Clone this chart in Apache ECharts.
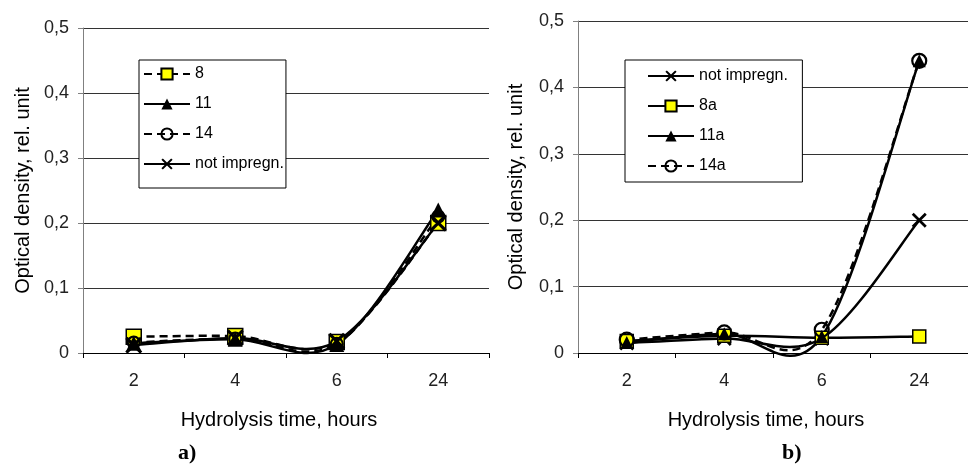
<!DOCTYPE html>
<html><head><meta charset="utf-8">
<script src="https://cdn.jsdelivr.net/npm/echarts@6/dist/echarts.min.js"></script>
<style>html,body{margin:0;padding:0;background:#fff}#c{width:968px;height:474px}</style>
</head><body><div id="c"></div>
<script>
// ---- data ----
const categories = ['2', '4', '6', '24'];
const xAxisTitle = 'Hydrolysis time, hours';
const yAxisTitle = 'Optical density, rel. unit';
const panelLabels = ['a)', 'b)'];

// panel a
const namesA = ['8', '11', '14', 'not impregn.'];
const a8   = [0.025, 0.026, 0.017, 0.200];
const a11  = [0.015, 0.021, 0.013, 0.220];
const a14  = [0.016, 0.022, 0.014, 0.210];
const aNot = [0.012, 0.023, 0.018, 0.200];

// panel b
const namesB = ['not impregn. ', '8a', '11a', '14a'];
const bNot = [0.015, 0.022, 0.022, 0.200];
const b8   = [0.018, 0.026, 0.023, 0.025];
const b11  = [0.016, 0.029, 0.025, 0.440];
const b14  = [0.020, 0.031, 0.035, 0.440];

// ---- styling ----
const FONT = '"Liberation Sans", Arial, sans-serif';
const X_PATH = 'path://M0,1.3 L1.3,0 L5,3.7 L8.7,0 L10,1.3 L6.3,5 L10,8.7 L8.7,10 L5,6.3 L1.3,10 L0,8.7 L3.7,5 Z';
const DASH = [8, 5];
const LW = 2.5;

function yFmt(v) { return v === 0 ? '0' : v.toFixed(1).replace('.', ','); }

// marker series (line itself hidden; drawn by the smoothing curve series below)
function mkSeries(name, data, idx, kind, dashed, big) {
  const s = {
    name: name, type: 'line', data: data,
    xAxisIndex: idx, yAxisIndex: idx, z: 3,
    lineStyle: { color: '#000', width: LW, type: dashed ? DASH : 'solid', opacity: 0 },
    emphasis: { disabled: true }
  };
  const k = big ? 2 : 0;
  if (kind === 'square') {
    s.symbol = 'rect'; s.symbolSize = 13 + k;
    s.itemStyle = { color: '#ffff00', borderColor: '#000', borderWidth: 1.5 };
  } else if (kind === 'tri') {
    s.symbol = 'triangle'; s.symbolSize = 13 + k;
    s.itemStyle = { color: '#000', borderColor: '#000', borderWidth: 0 };
  } else if (kind === 'circle') {
    s.symbol = 'circle'; s.symbolSize = big ? 12 : 14;
    s.itemStyle = { color: 'rgba(255,255,255,0)', borderColor: '#000', borderWidth: 2.2 };
  } else {
    s.symbol = X_PATH; s.symbolSize = 15 + k;
    s.itemStyle = { color: '#000', borderWidth: 0 };
  }
  return s;
}

// Excel-like smoothed line (Catmull-Rom), positioned with the axes' own scales via api.coord
function curveSeries(idx, curves) {
  return {
    type: 'custom', xAxisIndex: idx, yAxisIndex: idx, z: 2, silent: true,
    data: curves.map((c, i) => [i, 0]),
    renderItem: function (params, api) {
      const c = curves[params.dataIndex];
      const pts = c.data.map((v, i) => api.coord([i, v]));
      let d = 'M' + pts[0][0] + ',' + pts[0][1];
      for (let i = 0; i < pts.length - 1; i++) {
        const p0 = pts[Math.max(i - 1, 0)], p1 = pts[i], p2 = pts[i + 1], p3 = pts[Math.min(i + 2, pts.length - 1)];
        const c1x = p1[0] + (p2[0] - p0[0]) / 6, c1y = p1[1] + (p2[1] - p0[1]) / 6;
        const c2x = p2[0] - (p3[0] - p1[0]) / 6, c2y = p2[1] - (p3[1] - p1[1]) / 6;
        d += ' C' + c1x + ',' + c1y + ' ' + c2x + ',' + c2y + ' ' + p2[0] + ',' + p2[1];
      }
      return {
        type: 'path', shape: { pathData: d },
        style: { fill: 'none', stroke: '#000', lineWidth: LW, lineDash: c.dashed ? DASH : null, lineJoin: 'round' }
      };
    }
  };
}

function xAx(idx) {
  return {
    type: 'category', gridIndex: idx, data: categories, boundaryGap: true,
    axisLine: { show: true, lineStyle: { color: '#000', width: 1 } },
    axisTick: { show: true, length: 5, lineStyle: { color: '#000' } },
    axisLabel: { fontSize: 18, color: '#222', margin: 19, fontFamily: FONT },
    splitLine: { show: false },
    name: xAxisTitle, nameLocation: 'middle', nameGap: 57,
    nameTextStyle: { fontSize: 20, color: '#000', fontFamily: FONT, padding: [0, 14, 0, 0] }
  };
}
function yAx(idx, gap) {
  return {
    type: 'value', gridIndex: idx, min: 0, max: 0.5, interval: 0.1,
    axisLine: { show: true, lineStyle: { color: '#808080', width: 1 } },
    axisTick: { show: true, length: 5, lineStyle: { color: '#808080' } },
    axisLabel: { fontSize: 18, color: '#222', margin: 14, fontFamily: FONT, formatter: yFmt },
    splitLine: { show: true, lineStyle: { color: '#333', width: 1 } },
    name: yAxisTitle, nameLocation: 'middle', nameRotate: 90, nameGap: gap,
    nameTextStyle: { fontSize: 20, color: '#000', fontFamily: FONT }
  };
}
function legend(names, left, top, padding) {
  return {
    orient: 'vertical', left: left, top: top, data: names,
    itemWidth: 46, itemHeight: 14, itemGap: 10, padding: padding,
    borderColor: '#000', borderWidth: 1, backgroundColor: '#fff',
    lineStyle: { opacity: 1 },
    textStyle: { fontSize: 16, color: '#000', fontFamily: FONT, lineHeight: 20 },
    selectedMode: false
  };
}

const chart = echarts.init(document.getElementById('c'), null, { renderer: 'canvas' });
chart.setOption({
  animation: false,
  backgroundColor: '#fff',
  grid: [
    { left: 83, top: 28, width: 406, height: 325 },
    { left: 578, top: 21, width: 400, height: 332 }
  ],
  xAxis: [xAx(0), xAx(1)],
  yAxis: [yAx(0, 50), yAx(1, 52)],
  legend: [
    legend(namesA, 139, 60, [4, 2, 14, 4]),
    legend(namesB, 625, 60, [6, 10, 6, 22])
  ],
  series: [
    curveSeries(0, [
      { data: a8, dashed: true }, { data: a11, dashed: false },
      { data: a14, dashed: true }, { data: aNot, dashed: false }
    ]),
    curveSeries(1, [
      { data: bNot, dashed: false }, { data: b8, dashed: false },
      { data: b11, dashed: false }, { data: b14, dashed: true }
    ]),
    mkSeries(namesA[0], a8, 0, 'square', true, true),
    mkSeries(namesA[1], a11, 0, 'tri', false, true),
    mkSeries(namesA[2], a14, 0, 'circle', true, true),
    mkSeries(namesA[3], aNot, 0, 'x', false, true),
    mkSeries(namesB[0], bNot, 1, 'x', false, false),
    mkSeries(namesB[1], b8, 1, 'square', false, false),
    mkSeries(namesB[2], b11, 1, 'tri', false, false),
    mkSeries(namesB[3], b14, 1, 'circle', true, false)
  ],
  graphic: [
    { type: 'text', left: 178, top: 442, style: { text: panelLabels[0], font: 'bold 22px "Liberation Serif", "Times New Roman", serif', fill: '#000' } },
    { type: 'text', left: 782, top: 442, style: { text: panelLabels[1], font: 'bold 22px "Liberation Serif", "Times New Roman", serif', fill: '#000' } }
  ]
});
</script></body></html>
